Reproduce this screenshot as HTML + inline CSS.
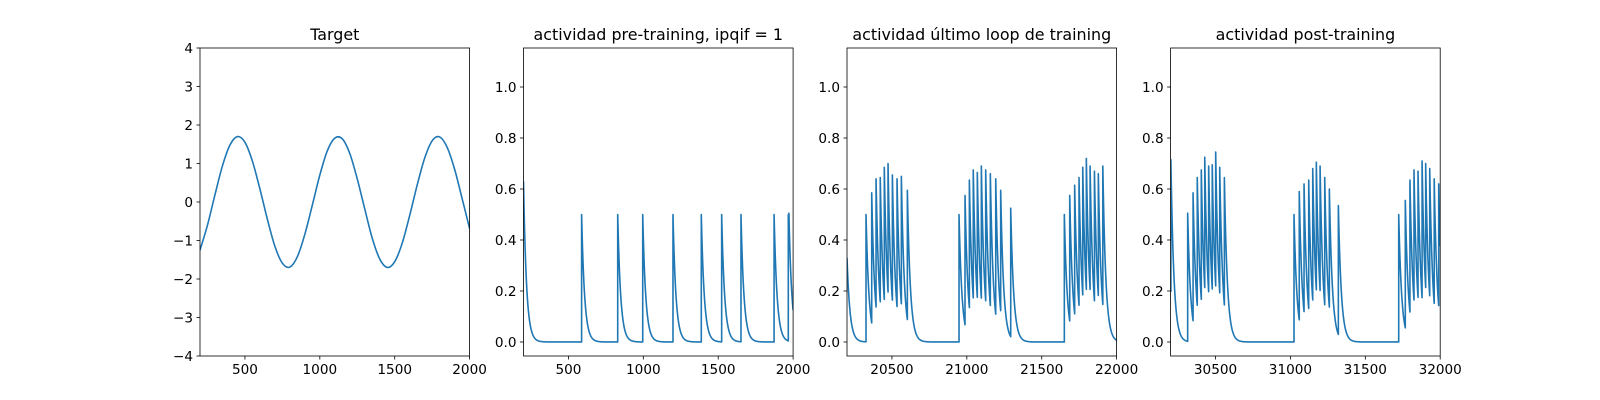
<!DOCTYPE html>
<html><head><meta charset="utf-8">
<style>
html,body{margin:0;padding:0;background:#fff;}
svg{display:block;font-family:"DejaVu Sans","Liberation Sans",sans-serif;}
</style></head>
<body>
<svg id="fig" width="1600" height="400" viewBox="0 0 1600 400" xmlns="http://www.w3.org/2000/svg"></svg>
<script>
// ---- Panel 1: Target (values sampled every 50 from 200 to 2000)
const targetX0 = 200, targetStep = 50;
const targetValues = [-1.25,-0.60,0.19,0.94,1.48,1.70,1.55,1.06,0.34,-0.45,-1.15,-1.59,-1.69,-1.42,-0.84,-0.08,0.70,1.33,1.66,1.64,1.26,0.60,-0.18,-0.94,-1.48,-1.70,-1.55,-1.07,-0.35,0.44,1.14,1.59,1.69,1.42,0.85,0.09,-0.69];
const targetYTicks = [-4,-3,-2,-1,0,1,2,3,4];
const targetXTicks = [500,1000,1500,2000];

// ---- Panel 2: pre-training
const preStart = 0.63;
const preSpikeTimes = [588,829,996,1198,1387,1523,1652,1873,1968,1972];
const preSpikePeaks = [0.50,0.50,0.50,0.50,0.50,0.50,0.50,0.50,0.50,0.505];
const preXTicks = [500,1000,1500,2000];

// ---- Panel 3: last training loop
const lastStart = 0.33;
const lastSpikeTimes = [20327,20365,20394,20422,20449,20474,20503,20534,20563,20603,
  20948,20988,21017,21043,21070,21097,21126,21157,21193,21226,21293,
  21651,21687,21720,21749,21774,21798,21823,21852,21878,21908];
const lastSpikePeaks = [0.50,0.585,0.64,0.645,0.685,0.70,0.655,0.64,0.65,0.595,
  0.50,0.575,0.635,0.675,0.665,0.69,0.675,0.66,0.64,0.595,0.525,
  0.50,0.575,0.615,0.645,0.685,0.72,0.69,0.67,0.66,0.69];
const lastXTicks = [20500,21000,21500,22000];

// ---- Panel 4: post-training
const postStart = 0.22;
const postSpikeTimes = [30202,30314,30350,30378,30405,30428,30454,30478,30501,30528,30559,
  31024,31059,31091,31122,31149,31173,31198,31229,31260,31320,
  31723,31767,31798,31825,31852,31879,31903,31930,31960,31990];
const postSpikePeaks = [0.715,0.505,0.585,0.645,0.675,0.725,0.69,0.695,0.745,0.685,0.645,
  0.50,0.59,0.62,0.635,0.68,0.705,0.69,0.645,0.60,0.535,
  0.50,0.555,0.635,0.675,0.67,0.71,0.70,0.68,0.64,0.62];
const postXTicks = [30500,31000,31500,32000];

const actYTicks = [0.0,0.2,0.4,0.6,0.8,1.0];
const TAU = 20;

const NS = "http://www.w3.org/2000/svg";
const svg = document.getElementById('fig');
function el(tag, attrs, parent){
  const e = document.createElementNS(NS, tag);
  for (const k in attrs) e.setAttribute(k, attrs[k]);
  (parent||svg).appendChild(e);
  return e;
}
const TOP = 48, BOT = 356;
const lefts = [200, 523.5, 847, 1170.6];
const W = 269.6;

function axes(i, xmin, xmax, ymin, ymax, xticks, yticks, yfmt, title, name){
  const g = el('g', {});
  
  
  const L = lefts[i], R = L + W;
  const sx = v => L + (v - xmin) / (xmax - xmin) * W;
  const sy = v => BOT - (v - ymin) / (ymax - ymin) * (BOT - TOP);
  xticks.forEach(t => {
    const x = sx(t);
    el('line', {x1:x, x2:x, y1:BOT, y2:BOT+3.5, stroke:'#000', 'stroke-width':0.8}, g);
    const tx = el('text', {x:x, y:BOT+18, 'text-anchor':'middle', 'font-size':'13.6px', fill:'#000'}, g);
    
    
    tx.textContent = t;
  });
  yticks.forEach(t => {
    const y = sy(t);
    el('line', {x1:L-3.5, x2:L, y1:y, y2:y, stroke:'#000', 'stroke-width':0.8}, g);
    const tx = el('text', {x:L-7, y:y+5, 'text-anchor':'end', 'font-size':'13.6px', fill:'#000'}, g);
    
    
    tx.textContent = yfmt(t);
  });
  const tt = el('text', {x:L+W/2, y:TOP-8, 'text-anchor':'middle', 'font-size':'15.9px', fill:'#000'}, g);
  
  
  tt.textContent = title;
  return {g, sx, sy, L, R};
}
function frame(a){
  const r = el('rect', {x:a.L, y:TOP, width:W, height:BOT-TOP, fill:'none', stroke:'#000', 'stroke-width':0.8}, a.g);
  
  
}
function clip(a, id){
  const c = el('clipPath', {id:id}, a.g);
  el('rect', {x:a.L, y:TOP, width:W, height:BOT-TOP}, c);
}
function drawPath(a, d, id, name){
  clip(a, id);
  const p = el('path', {d:d, fill:'none', stroke:'#1f77b4', 'stroke-width':1.6, 'stroke-linejoin':'round', 'clip-path':'url(#'+id+')'}, a.g);
  
  
}
function linePath(a, pts, id, name){
  let d = '';
  pts.forEach((p,k) => { d += (k ? 'L' : 'M') + a.sx(p[0]).toFixed(2) + ' ' + a.sy(p[1]).toFixed(2); });
  drawPath(a, d, id, name);
}
function smoothPath(a, pts, id, name){
  const P = pts.map(p => [a.sx(p[0]), a.sy(p[1])]);
  let d = 'M' + P[0][0].toFixed(2) + ' ' + P[0][1].toFixed(2);
  for (let i = 0; i < P.length - 1; i++){
    const p0 = P[Math.max(0, i-1)], p1 = P[i], p2 = P[i+1], p3 = P[Math.min(P.length-1, i+2)];
    const c1 = [p1[0] + (p2[0]-p0[0])/6, p1[1] + (p2[1]-p0[1])/6];
    const c2 = [p2[0] - (p3[0]-p1[0])/6, p2[1] - (p3[1]-p1[1])/6];
    d += 'C' + c1[0].toFixed(2)+' '+c1[1].toFixed(2)+' '+c2[0].toFixed(2)+' '+c2[1].toFixed(2)+' '+p2[0].toFixed(2)+' '+p2[1].toFixed(2);
  }
  drawPath(a, d, id, name);
}
function spikeSeries(x0, x1, start, times, peaks){
  const pts = [];
  let last = x0, val = start, k = 0;
  pts.push([x0, start]);
  for (let t = x0 + 1; t <= x1; t++){
    while (k < times.length && times[k] <= t){
      const ts = times[k];
      const before = val * Math.exp(-(ts - last) / TAU);
      pts.push([ts, before]);
      pts.push([ts, peaks[k]]);
      val = peaks[k]; last = ts; k++;
    }
    pts.push([t, val * Math.exp(-(t - last) / TAU)]);
  }
  return pts;
}

// Panel 1
const a1 = axes(0, 200, 2000, -4, 4, targetXTicks, targetYTicks, v => String(v).replace('-', '\u2212'), 'Target', 'target-panel');
smoothPath(a1, targetValues.map((v,k) => [targetX0 + k*targetStep, v]), 'c1', 'target-line');
frame(a1);

const YMIN = -0.055, YMAX = 1.153;
const f1 = v => v.toFixed(1);
const a2 = axes(1, 200, 2000, YMIN, YMAX, preXTicks, actYTicks, f1, 'actividad pre-training, ipqif = 1', 'pre-training-panel');
linePath(a2, spikeSeries(200, 2000, preStart, preSpikeTimes, preSpikePeaks), 'c2', 'pre-training-line');
frame(a2);

const a3 = axes(2, 20200, 22000, YMIN, YMAX, lastXTicks, actYTicks, f1, 'actividad \u00faltimo loop de training', 'last-loop-panel');
linePath(a3, spikeSeries(20200, 22000, lastStart, lastSpikeTimes, lastSpikePeaks), 'c3', 'last-loop-line');
frame(a3);

const a4 = axes(3, 30200, 32000, YMIN, YMAX, postXTicks, actYTicks, f1, 'actividad post-training', 'post-training-panel');
linePath(a4, spikeSeries(30200, 32000, postStart, postSpikeTimes, postSpikePeaks), 'c4', 'post-training-line');
frame(a4);
</script>
</body></html>
